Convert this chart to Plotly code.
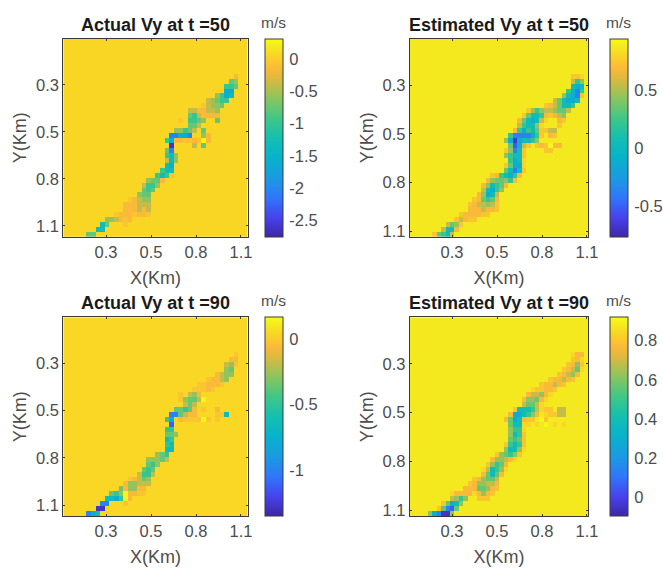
import numpy as np
import plotly.graph_objects as go

W, H = 663, 568

PARULA = [
    [0.00, "#3E26A8"], [0.10, "#4743EE"], [0.20, "#2F78FB"], [0.30, "#1A9BE0"],
    [0.40, "#07B2CC"], [0.50, "#14BFB0"], [0.60, "#40C787"], [0.70, "#8BC55E"],
    [0.80, "#DDB93E"], [0.85, "#FABA39"], [0.91, "#FAD225"], [0.96, "#F4E91F"],
    [1.00, "#F9FB15"],
]

# Each row of a field: (first column, level codes); everything else is background.
ACTUAL_50 = [
 None, None, None, None, None, None, None,
 (37, "a"), (36, "dc"), (35, "eed"), (35, "gg"), (33, "cegf"), (31, "bcdee"),
 (30, "obccd"), (27, "bbaabbc"), (27, "debaaaa"),
 (25, "o.eedc..d"), (27, "ddb"), (24, "ccedb.d"), (23, "hhggh..ca"),
 (22, "egaaooaoya"), (23, "j....b.d"), (22, "dh"), (22, "efc"), (22, "bfc"),
 (22, "fg"), (21, "eff"), (20, "efeo"), (18, "cdda"), (17, "beec"),
 (17, "ded"), (16, "cdd"), (14, "oabcc"), (13, "aaabbb"), (13, "aaabab"),
 (11, "oaaaoaao"), (9, "ccbaoa"), (8, "fd...o"), (7, "ff"), (5, "dd"),
]
ESTIMATED_50 = [
 None, None, None, None, None, None, None,
 (36, "ool"), (36, "bec"), (36, "fgf"), (35, "eghe"), (34, "cfgho"), (32, "bdfggf"),
 (30, "oabdffe"), (26, "ocecbbcddb"), (25, "odffeaoabc"), (24, "adfgfbl..ao"),
 (24, "beffcl...o"), (23, "aegefdoobb"), (22, "ehhhhgeo.ao"), (21, "cgjgffec"),
 (22, "digbo.oaoyaa"), (21, "ochfo....oo"), (21, "ceffo"), (22, "egfl"), (21, "odggl"),
 (21, "dfhfo"), (18, "oaefgea"), (17, "acddcea"), (16, "acfeda"), (16, "bfgec"),
 (15, "acgfb"), (14, "oadeda"), (13, "oabbcbo"), (13, "aaabaao"), (11, "oaaaaoo"),
 (10, "obaoo"), (8, "bdco"), (7, "bffa"), (5, "odefb"),
]
ACTUAL_90 = [
 None, None, None, None, None, None, None,
 (37, "o"), (36, "aa"), (35, "bco"), (35, "cd"), (33, "abcc"), (31, "oaabc"),
 (29, "ooaaao"), (24, "l...oooao"), (25, "o.bca"), (25, "ocddby"), (26, "bdb"),
 (24, "ddeda.o..a"), (23, "hhdbaa....oof"), (22, "eg.aooooyo.o"),
 (23, "i.....l"), (22, "ee"), (22, "ddc"), (22, "fe"), (22, "ef"), (22, "ff"),
 (20, "cde"), (18, "cccdb"), (18, "dec"), (17, "ded"), (16, "beeb"), (14, "oabdc"),
 (13, "accbbb"), (12, "daccaa"), (10, "decyaaoo"), (9, "ffgeya"), (8, "hh...o"),
 (7, "jj"), (5, "hgf"),
]
ESTIMATED_90 = [
 None, None, None, None, None, None, None,
 (36, "laa"), (36, "oal"), (35, "oaco"), (34, "oabdl"), (33, "oabca"), (31, "oaabao"),
 (29, "oaabao"), (27, "looaao"), (26, "abbcal"), (25, "accdal"), (25, "bddbl"),
 (23, "offfebloo.bb"), (22, "aggfeca.loobb"), (21, "adgfaoo.yo"), (22, "dffll.l.y.l.l"),
 (22, "ceel"), (22, "cfeo"), (22, "dedo"), (21, "oefeo"), (21, "cffcl"), (19, "ocdeco"),
 (18, "accbal"), (17, "oceda"), (16, "lbfecl"), (16, "adfda"), (14, "oacddb"),
 (13, "oaccbba"), (12, "aaaddcao"), (9, "laaaalacao"), (9, "bcec..ooo"), (7, "odgfc"),
 (6, "odhid"), (4, "cghjjc"),
]

# Code -> physical value (m/s) for every field.
LEVEL_CODES = list(".lyoabcdefghij")
ACTUAL_50_VALUES = [0.06, 0.06, 0.28, -0.06, -0.15, -0.39, -0.58, -0.76, -0.98, -1.31, -1.59, -2.05, -2.29, -2.60]
ESTIMATED_50_VALUES = [0.87, 0.80, 0.92, 0.734, 0.683, 0.547, 0.446, 0.344, 0.225, 0.039, -0.113, -0.367, -0.503, -0.672]
ACTUAL_90_VALUES = [0.045, 0.045, 0.15, -0.016, -0.061, -0.183, -0.274, -0.365, -0.471, -0.637, -0.774, -1.0, -1.12, -1.274]
ESTIMATED_90_VALUES = [0.878, 0.838, 0.909, 0.798, 0.767, 0.686, 0.625, 0.565, 0.494, 0.383, 0.292, 0.14, 0.06, -0.042]

KM_TICKS = [0.275, 0.55, 0.825, 1.1]
KM_LABELS = ["0.3", "0.5", "0.8", "1.1"]

TITLES = ["Actual Vy at t =50", "Estimated Vy at t =50", "Actual Vy at t =90", "Estimated Vy at t =90"]
FIELDS = [ACTUAL_50, ESTIMATED_50, ACTUAL_90, ESTIMATED_90]
VALUES = [ACTUAL_50_VALUES, ESTIMATED_50_VALUES, ACTUAL_90_VALUES, ESTIMATED_90_VALUES]
Z_RANGE = [(-2.75, 0.31), (-0.757, 0.937), (-1.35, 0.166), (-0.093, 0.919)]
CB_TICKS = [[0, -0.5, -1, -1.5, -2, -2.5], [0.5, 0, -0.5], [0, -0.5, -1], [0.8, 0.6, 0.4, 0.2, 0]]
CB_LABELS = [["0", "-0.5", "-1", "-1.5", "-2", "-2.5"], ["0.5", "0", "-0.5"], ["0", "-0.5", "-1"],
             ["0.8", "0.6", "0.4", "0.2", "0"]]

# Layout in pixels: (left, right), (top, bottom)
COLS = [(63.3, 247.7), (409.7, 588.3)]
ROWS = [(39.0, 236.7), (317.3, 516.0)]
CBARS = [(265.0, 282.7), (609.7, 628.0)]
X_RANGE = [(0.014, 1.141), (0.0164, 1.108)]
Y_RANGE = [(0.006, 1.164), (0.0128, 1.132)]

INK = "#3a3a3a"
TEXT = "#4d4d4d"
FONT = "Liberation Sans"
N = 40


def build(rows, values):
    lookup = dict(zip(LEVEL_CODES, values))
    z = np.full((N, N), lookup["."], dtype=float)
    for r, row in enumerate(rows):
        if row is None:
            continue
        start, codes = row
        for k, ch in enumerate(codes):
            if start + k < N:
                z[r, start + k] = lookup[ch]
    return z


fig = go.Figure()
annotations = []
for i in range(4):
    rc, cc = i // 2, i % 2
    (xl, xr), (yt, yb) = COLS[cc], ROWS[rc]
    (cl, cr) = CBARS[cc]
    xa, ya = ("x", "y") if i == 0 else (f"x{i+1}", f"y{i+1}")
    x0, x1 = X_RANGE[cc]
    y0, y1 = Y_RANGE[cc]
    xs = x0 + (np.arange(N) + 0.5) * (x1 - x0) / N
    ys = y0 + (np.arange(N) + 0.5) * (y1 - y0) / N
    zmin, zmax = Z_RANGE[i]
    fig.add_trace(go.Heatmap(
        z=build(FIELDS[i], VALUES[i]), x=xs, y=ys, xaxis=xa, yaxis=ya,
        colorscale=PARULA, zmin=zmin, zmax=zmax, hoverinfo="skip",
        colorbar=dict(
            x=cl / W, xanchor="left", xpad=0, ypad=0,
            y=1 - yb / H, yanchor="bottom", len=(yb - yt) / H, lenmode="fraction",
            thickness=cr - cl, thicknessmode="pixels",
            outlinewidth=1, outlinecolor=INK,
            tickmode="array", tickvals=CB_TICKS[i], ticktext=CB_LABELS[i],
            ticks="outside", ticklen=3, tickwidth=1, tickcolor="rgba(0,0,0,0)",
            tickfont=dict(family=FONT, size=16.5, color=TEXT),
        ),
    ))
    common = dict(
        showline=True, mirror="ticks", linecolor=INK, linewidth=1,
        ticks="inside", ticklen=2, tickwidth=1, tickcolor=INK, showgrid=False, zeroline=False,
        tickmode="array", tickvals=KM_TICKS, ticktext=KM_LABELS,
        tickfont=dict(family=FONT, size=16.5, color=TEXT),
    )
    fig.update_layout({
        ("xaxis" if i == 0 else f"xaxis{i+1}"): dict(
            common, domain=[xl / W, xr / W], anchor=ya, range=[x0, x1],
            title=dict(text="X(Km)", standoff=11, font=dict(family=FONT, size=18, color=TEXT))),
        ("yaxis" if i == 0 else f"yaxis{i+1}"): dict(
            common, domain=[1 - yb / H, 1 - yt / H], anchor=xa, range=[y1, y0],
            title=dict(text="Y(Km)", standoff=4, font=dict(family=FONT, size=18, color=TEXT))),
    })
    annotations.append(dict(
        text=f"<b>{TITLES[i]}</b>", xref="paper", yref="paper", x=(xl + xr) / 2 / W, y=1 - (yt - 2) / H,
        xanchor="center", yanchor="bottom", showarrow=False,
        font=dict(family=FONT, size=18, color="#1a1a1a")))
    annotations.append(dict(
        text="m/s", xref="paper", yref="paper", x=(cl + cr) / 2 / W, y=1 - (yt - 6) / H,
        xanchor="center", yanchor="bottom", showarrow=False,
        font=dict(family=FONT, size=15.5, color=TEXT)))

fig.update_layout(width=W, height=H, margin=dict(l=0, r=0, t=0, b=0, autoexpand=False),
                  paper_bgcolor="white", plot_bgcolor="white", annotations=annotations)
fig.write_html("out.html", post_script="document.body.style.margin='0';",
               config={"displayModeBar": False})
